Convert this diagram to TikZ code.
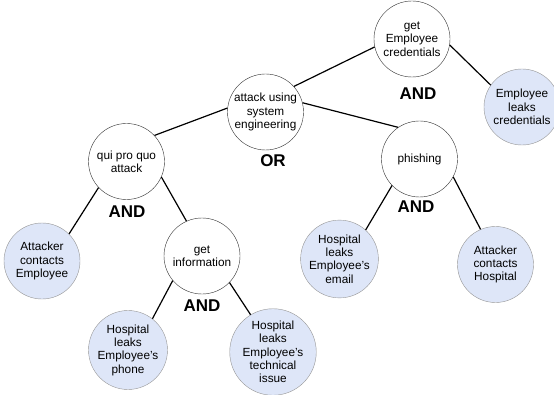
\documentclass[tikz,border=0pt]{standalone}
\usepackage{fontspec}
\setmainfont{Liberation Sans}
\usepackage{tikz}
\usetikzlibrary{shapes,positioning,calc}

\definecolor{leafblue}{RGB}{222,230,248}
\definecolor{leafgray}{RGB}{150,150,150}

\begin{document}
\begin{tikzpicture}[x=1pt,y=1pt,
  goal/.style={circle,draw=black!80,fill=white,minimum size=76pt,inner sep=0pt,align=center,font=\fontsize{11.8}{13.3}\selectfont},
  leaf/.style={goal,draw=leafgray,fill=leafblue},
  gate/.style={font=\fontsize{17}{17}\selectfont\bfseries},
  link/.style={line width=1.2pt,black}]

\useasboundingbox (0,0) rectangle (554,394);

\node[goal] (getcred) at (412,355) {get\\Employee\\credentials};
\node[leaf] (leakcred) at (522,287) {Employee\\leaks\\credentials};
\node[goal] (attack) at (265.5,282) {attack using\\system\\engineering};
\node[goal] (quipro) at (126.5,232.5) {qui pro quo\\attack};
\node[goal] (phishing) at (419.5,235) {phishing};
\node[leaf] (contactemp) at (42,133) {Attacker\\contacts\\Employee};
\node[goal] (getinfo) at (202,138) {get\\information};
\node[leaf] (leakmail) at (339.5,135) {Hospital\\leaks\\Employee’s\\email};
\node[leaf] (contacthosp) at (495.5,129.5) {Attacker\\contacts\\Hospital};
\node[leaf] (leakphone) at (128,44) {Hospital\\leaks\\Employee’s\\phone};
\node[leaf] (leakissue) at (273,42) {Hospital\\leaks\\Employee’s\\technical\\issue};

% gates
\node[gate] (and1) at (418,300) {AND};
\node[gate] (or1) at (273,233) {OR};
\node[gate] (and2) at (127,182) {AND};
\node[gate] (and3) at (416,187) {AND};
\node[gate] (and4) at (202,88) {AND};

% links
\draw[link] (attack.42) -- (getcred.192);
\draw[link] (getcred.-9) -- (leakcred.145);
\draw[link] (attack.174) -- (quipro.43);
\draw[link] (attack.14) -- (phishing.124);
\draw[link] (quipro.223) -- (contactemp.45);
\draw[link] (quipro.-24) -- (getinfo.114);
\draw[link] (phishing.224) -- (leakmail.48);
\draw[link] (phishing.-28) -- (contacthosp.113);
\draw[link] (getinfo.220) -- (leakphone.52);
\draw[link] (getinfo.-44) -- (leakissue.121);

\end{tikzpicture}
\end{document}
